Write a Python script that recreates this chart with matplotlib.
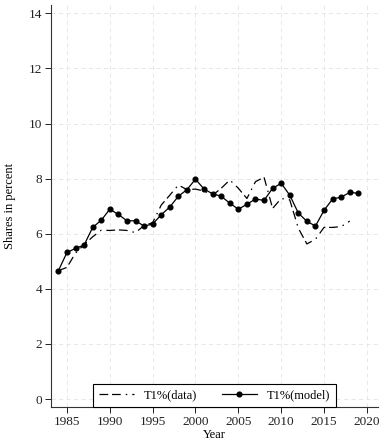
import matplotlib
matplotlib.use("Agg")
import matplotlib.pyplot as plt
from matplotlib import rcParams
rcParams['font.family'] = 'Liberation Serif'
rcParams['font.size'] = 9

years_model = list(range(1984, 2020))
t1_model = [4.66, 5.32, 5.47, 5.59, 6.23, 6.49, 6.89, 6.70, 6.47, 6.47,
            6.28, 6.35, 6.69, 6.97, 7.36, 7.60, 7.98, 7.62, 7.45, 7.36,
            7.11, 6.89, 7.07, 7.26, 7.21, 7.65, 7.83, 7.40, 6.75, 6.45,
            6.28, 6.85, 7.26, 7.33, 7.50, 7.47]

years_data = list(range(1984, 2019))
t1_data = [4.66, 4.78, 5.30, 5.60, 5.89, 6.13, 6.12, 6.14, 6.12, 6.04,
           6.30, 6.40, 7.04, 7.40, 7.77, 7.60, 7.62, 7.55, 7.40, 7.65,
           7.95, 7.65, 7.28, 7.89, 8.05, 6.92, 7.28, 7.23, 6.20, 5.63,
           5.80, 6.23, 6.23, 6.26, 6.46]

fig = plt.figure(figsize=(3.83, 4.42), dpi=100)
ax = fig.add_axes([0.133, 0.079, 0.854, 0.909])

ax.plot(years_data, t1_data, color='black', lw=0.9,
        dashes=(7, 3, 7, 4, 1.2, 4), label='T1%(data)')
ax.plot(years_model, t1_model, color='black', lw=0.9, marker='o',
        markersize=3.4, label='T1%(model)')

ax.set_xlim(1983.13, 2021.3)
ax.set_ylim(-0.29, 14.29)
ax.set_xticks(range(1985, 2021, 5))
ax.set_yticks(range(0, 15, 2))
ax.grid(True, color='#e4e4e4', linestyle=(0, (5, 4)), linewidth=0.6)
ax.set_axisbelow(True)
for s in ['top', 'right']:
    ax.spines[s].set_visible(False)
for s in ['left', 'bottom']:
    ax.spines[s].set_linewidth(0.8)
    ax.spines[s].set_color('#333333')
ax.tick_params(direction='out', length=4, width=0.7, labelsize=9.5,
               colors='#222222', pad=2.5)

ax.set_xlabel('Year', fontsize=9, labelpad=1)
ax.set_ylabel('Shares in percent', fontsize=9, labelpad=9)

leg = ax.legend(loc='lower center', bbox_to_anchor=(0.5, 0), ncol=2,
                borderaxespad=0, fancybox=False, edgecolor='black',
                framealpha=1, fontsize=9, handlelength=2.8,
                columnspacing=2.0, borderpad=0.45)
leg.get_frame().set_linewidth(0.8)

fig.savefig('out.png', dpi=100)
